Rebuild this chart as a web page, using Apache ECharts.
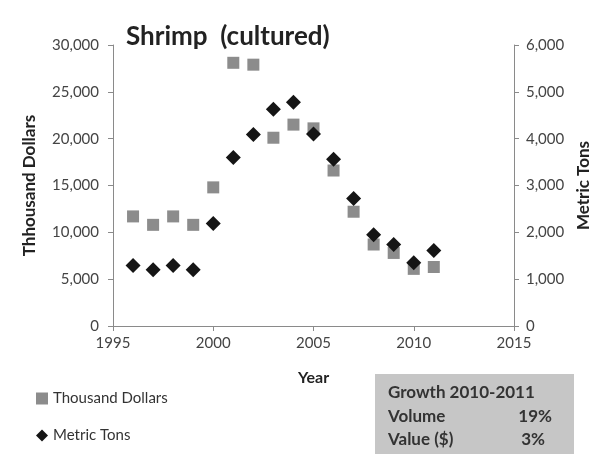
<!DOCTYPE html>
<html><head><meta charset="utf-8">
<script src="https://cdn.jsdelivr.net/npm/echarts@6/dist/echarts.min.js"></script>
<style>html,body{margin:0;padding:0;background:#fff}#c{width:594px;height:454px}</style>
</head><body><div id="c"></div>
<script>
var years = [1996,1997,1998,1999,2000,2001,2002,2003,2004,2005,2006,2007,2008,2009,2010,2011];
var thousandDollars = [11700,10800,11700,10800,14800,28100,27900,20100,21500,21100,16600,12200,8700,7800,6100,6300];
var metricTons = [1290,1200,1290,1200,2190,3600,4090,4630,4780,4100,3560,2720,1950,1740,1350,1610];
var growthRows = [["Volume","19%"],["Value ($)","3%"]];
var FONT = "Lato, 'Open Sans', sans-serif";
function pair(a){return years.map(function(y,i){return [y,a[i]];});}
function fmt(v){return v.toLocaleString('en-US');}
var chart = echarts.init(document.getElementById('c'));
var axisLine = {show:true,lineStyle:{color:'#8a8a8a',width:1}};
var tick = {show:true,length:5,lineStyle:{color:'#8a8a8a'}};
var nameStyle = {fontFamily:FONT,fontSize:17,fontWeight:'bold',color:'#222'};
var labelStyle = {fontFamily:FONT,fontSize:15,color:'#444'};
chart.setOption({
  animation:false,
  textStyle:{fontFamily:FONT},
  title:{text:'Shrimp  (cultured)',left:121,top:19,textStyle:{fontFamily:FONT,fontSize:26,fontWeight:'bold',color:'#222'}},
  grid:{left:113,right:80,top:45,bottom:128,containLabel:false,outerBoundsMode:'none'},
  legend:{orient:'vertical',left:31,top:386,itemGap:22,itemWidth:12,itemHeight:12,
    textStyle:{fontFamily:FONT,fontSize:15,color:'#333'},
    data:[{name:'Thousand Dollars',icon:'rect'},{name:'Metric Tons',icon:'diamond'}]},
  xAxis:{type:'value',min:1995,max:2015,interval:5,name:'Year',nameLocation:'middle',nameGap:44,
    nameTextStyle:Object.assign({},nameStyle,{fontSize:16}),
    axisLine:axisLine,axisTick:tick,splitLine:{show:false},
    axisLabel:Object.assign({margin:10,formatter:function(v){return String(v);}},labelStyle)},
  yAxis:[
    {type:'value',min:0,max:30000,interval:5000,name:'Thhousand Dollars',nameLocation:'middle',nameGap:75,nameRotate:90,
     nameTextStyle:nameStyle,
     axisLine:axisLine,axisTick:tick,splitLine:{show:false},
     axisLabel:Object.assign({margin:14,formatter:fmt},labelStyle)},
    {type:'value',min:0,max:6000,interval:1000,name:'Metric Tons',nameLocation:'middle',nameGap:61,nameRotate:90,position:'right',
     nameTextStyle:nameStyle,
     axisLine:axisLine,axisTick:tick,splitLine:{show:false},
     axisLabel:Object.assign({margin:12,formatter:fmt},labelStyle)}
  ],
  series:[
    {name:'Thousand Dollars',type:'scatter',yAxisIndex:0,symbol:'rect',symbolSize:12,
     itemStyle:{color:'#8c8c8c',opacity:1},data:pair(thousandDollars)},
    {name:'Metric Tons',type:'scatter',yAxisIndex:1,symbol:'diamond',symbolSize:15,
     itemStyle:{color:'#151515',opacity:1},data:pair(metricTons)}
  ],
  graphic:[
    {type:'rect',left:375,top:374,shape:{width:199,height:80},style:{fill:'#c6c6c6'},z:1},
    {type:'text',left:388,top:384,style:{text:'Growth 2010-2011',font:'bold 17px '+FONT,fill:'#333'},z:2},
    {type:'text',left:388,top:408,style:{text:growthRows[0][0],font:'bold 17px '+FONT,fill:'#333'},z:2},
    {type:'text',right:42,top:408,style:{text:growthRows[0][1],font:'bold 17px '+FONT,fill:'#333'},z:2},
    {type:'text',left:388,top:431,style:{text:growthRows[1][0],font:'bold 17px '+FONT,fill:'#333'},z:2},
    {type:'text',right:49,top:431,style:{text:growthRows[1][1],font:'bold 17px '+FONT,fill:'#333'},z:2}
  ]
});
</script></body></html>
